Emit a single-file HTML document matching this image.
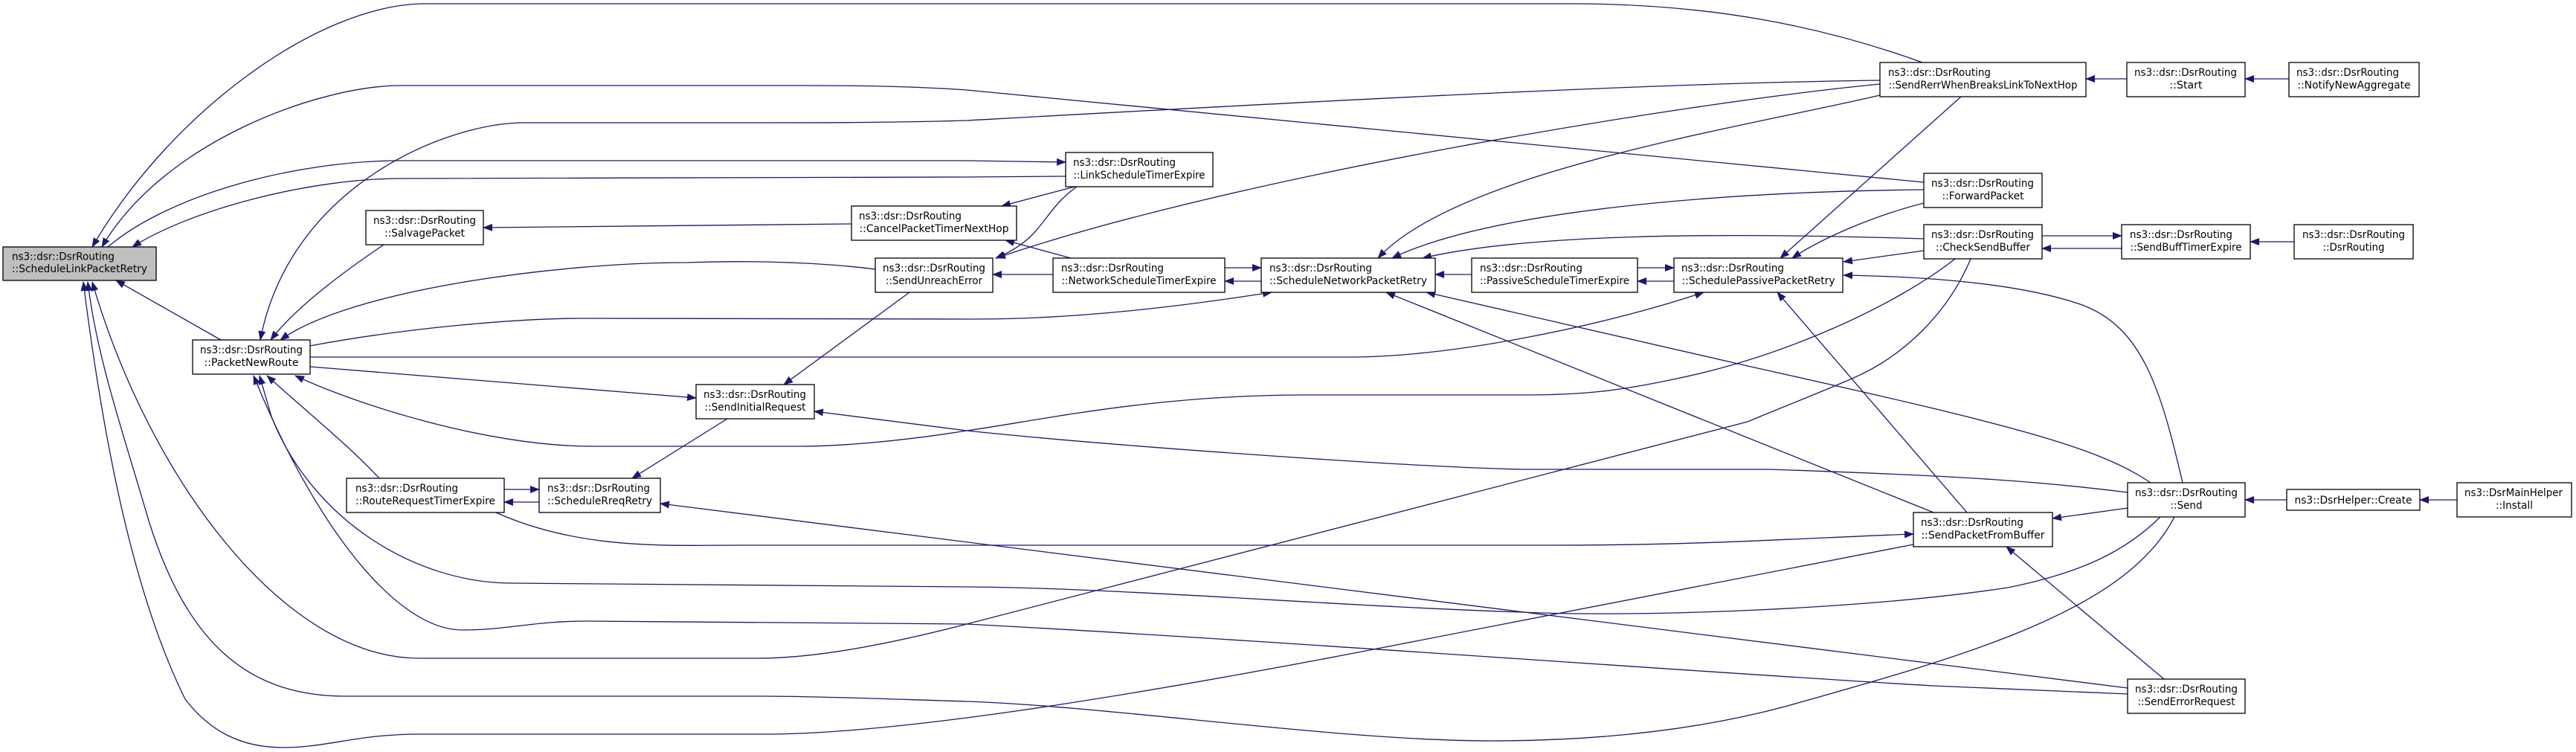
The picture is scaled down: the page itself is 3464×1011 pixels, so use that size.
<!DOCTYPE html>
<html>
<head>
<meta charset="utf-8">
<style>
html,body{margin:0;padding:0;background:#fff;}
svg{display:block;}
text{font-family:"DejaVu Sans","Liberation Sans",sans-serif;font-size:14px;fill:#000;}
.e{fill:none;stroke:#191970;stroke-width:1.3;marker-end:url(#ah);}
.b{fill:#fff;stroke:#000;stroke-width:1.3;}
</style>
</head>
<body>
<svg width="3464" height="1011" viewBox="0 0 3464 1011" xmlns="http://www.w3.org/2000/svg">
<defs>
<marker id="ah" markerWidth="13" markerHeight="10" refX="12" refY="5" orient="auto" markerUnits="userSpaceOnUse">
<path d="M0,0 L13,5 L0,10 z" fill="#191970"/>
</marker>
</defs>
<rect width="3464" height="1011" fill="#fff"/>

<!-- edges -->
<path class="e" d="M2585,84 C2450,35 2300,5 2113,5 L572,5 C430,5 230,150 124,332"/>
<path class="e" d="M2587,245 L1300,121 C1200,114 1100,115 1040,115 L539,115 C430,115 220,190 137,332"/>
<path class="e" d="M2528,108 C2200,112 1700,140 1300,162 C1200,165 1100,165 1000,165 L705,165 C600,165 390,250 350,457"/>
<path class="e" d="M145,332 C230,260 400,216 539,216 L1300,216 L1433,218"/>
<path class="e" d="M1433,237 L1300,238 L539,240 C420,240 260,280 178,332"/>
<path class="e" d="M2528,113 C2250,140 1650,240 1340,347"/>
<path class="e" d="M2528,128 C2350,170 1960,230 1853,347"/>
<path class="e" d="M1445,251 L1347,277"/>
<path class="e" d="M1448,251 C1400,285 1405,320 1339,347"/>
<path class="e" d="M1440,347 L1352,323"/>
<path class="e" d="M2587,255 C2300,258 2000,285 1872,347"/>
<path class="e" d="M2587,321 C2300,312 2050,315 1913,347"/>
<path class="e" d="M2587,273 C2520,290 2450,320 2410,347"/>
<path class="e" d="M2637,130 L2394,347"/>
<path class="e" d="M2587,337 L2479,352"/>
<path class="e" d="M2746,317 L2853,317"/>
<path class="e" d="M2853,334 L2746,334"/>
<path class="e" d="M1979,369 L1930,369"/>
<path class="e" d="M2202,360 L2251,360"/>
<path class="e" d="M2251,378 L2202,378"/>
<path class="e" d="M1647,360 L1696,360"/>
<path class="e" d="M1696,378 L1647,378"/>
<path class="e" d="M1416,369 L1335,369"/>
<path class="e" d="M2860,106 L2805,106"/>
<path class="e" d="M3078,106 L3019,106"/>
<path class="e" d="M3085,325 L3026,325"/>
<path class="e" d="M3075,672 L3019,672"/>
<path class="e" d="M3304,672 L3254,672"/>
<path class="e" d="M2935,649 C2905,520 2880,440 2800,410 C2720,382 2600,372 2479,370"/>
<path class="e" d="M2645,689 L2390,393"/>
<path class="e" d="M2600,689 L1864,393"/>
<path class="e" d="M2892,649 C2820,600 2700,570 2350,492 L1918,393"/>
<path class="e" d="M2861,683 L2760,697"/>
<path class="e" d="M2910,913 L2698,735"/>
<path class="e" d="M667,689 C780,740 900,733 995,733 L2088,733 C2300,733 2450,722 2573,718"/>
<path class="e" d="M2861,925 L888,677"/>
<path class="e" d="M2861,662 C2750,648 2650,640 2378,631 L2046,631 C1900,628 1500,600 1300,579 L1095,553"/>
<path class="e" d="M417,493 L936,535"/>
<path class="e" d="M1223,393 L1054,517"/>
<path class="e" d="M978,563 L850,643"/>
<path class="e" d="M678,658 L725,658"/>
<path class="e" d="M725,675 L678,675"/>
<path class="e" d="M516,329 C470,360 400,410 364,457"/>
<path class="e" d="M1145,301 L650,306"/>
<path class="e" d="M1177,362 C1100,352 1000,350 923,353 C750,353 470,390 377,457"/>
<path class="e" d="M297,457 L156,377"/>
<path class="e" d="M417,465 C550,440 700,428 783,428 L1300,429 C1450,430 1600,410 1710,393"/>
<path class="e" d="M417,480 L1814,480 C1950,480 2150,440 2291,393"/>
<path class="e" d="M2629,348 C2550,410 2400,480 2250,510 C2180,525 2130,531 2050,531 L1756,531 C1550,531 1400,565 1300,579 C1200,595 1120,600 1078,600 L796,600 C650,600 470,540 397,505"/>
<path class="e" d="M2650,348 C2620,420 2560,480 2488,510 C2430,535 2390,550 2350,567 L1300,839 C1200,865 1100,885 1020,885 L564,885 C380,885 200,640 124,379"/>
<path class="e" d="M2573,732 L1847,873 C1500,940 1200,987 1028,987 L564,987 C480,987 440,1005 381,1005 C320,1005 280,980 249,940 C180,800 140,600 112,379"/>
<path class="e" d="M2924,695 C2860,820 2650,880 2400,950 C2250,990 2100,996 2005,996 C1800,996 1500,950 1300,943 C1200,940 1100,936 1028,936 L464,936 C330,936 250,860 200,700 C165,580 130,480 118,379"/>
<path class="e" d="M2861,933 L2600,922 C2300,905 1700,860 1300,839 L788,835 C720,835 680,847 622,847 C530,847 420,700 341,505"/>
<path class="e" d="M2906,694 C2860,740 2800,770 2700,790 C2500,820 2200,830 2046,823 C1800,815 1500,790 1300,789 L688,784 C560,784 420,700 365,560 L349,505"/>
<path class="e" d="M510,643 C470,600 420,560 359,505"/>

<!-- nodes -->
<g>
<rect x="4" y="332" width="206" height="45" fill="#bfbfbf" stroke="#000" stroke-width="1.3"/>
<text x="16" y="349.5" textLength="138" lengthAdjust="spacingAndGlyphs">ns3::dsr::DsrRouting</text>
<text x="107" y="366" text-anchor="middle" textLength="182" lengthAdjust="spacingAndGlyphs">::ScheduleLinkPacketRetry</text>

<rect class="b" x="259" y="457" width="158" height="46"/>
<text x="269" y="475" textLength="138" lengthAdjust="spacingAndGlyphs">ns3::dsr::DsrRouting</text>
<text x="338" y="492" text-anchor="middle" textLength="127" lengthAdjust="spacingAndGlyphs">::PacketNewRoute</text>

<rect class="b" x="492" y="283" width="158" height="46"/>
<text x="502" y="301" textLength="138" lengthAdjust="spacingAndGlyphs">ns3::dsr::DsrRouting</text>
<text x="571" y="318" text-anchor="middle" textLength="108" lengthAdjust="spacingAndGlyphs">::SalvagePacket</text>

<rect class="b" x="1145" y="277" width="222" height="46"/>
<text x="1155" y="295" textLength="138" lengthAdjust="spacingAndGlyphs">ns3::dsr::DsrRouting</text>
<text x="1256" y="312" text-anchor="middle" textLength="201" lengthAdjust="spacingAndGlyphs">::CancelPacketTimerNextHop</text>

<rect class="b" x="1433" y="205" width="198" height="46"/>
<text x="1443" y="223" textLength="138" lengthAdjust="spacingAndGlyphs">ns3::dsr::DsrRouting</text>
<text x="1532" y="240" text-anchor="middle" textLength="177" lengthAdjust="spacingAndGlyphs">::LinkScheduleTimerExpire</text>

<rect class="b" x="1177" y="347" width="158" height="46"/>
<text x="1187" y="365" textLength="138" lengthAdjust="spacingAndGlyphs">ns3::dsr::DsrRouting</text>
<text x="1256" y="382" text-anchor="middle" textLength="130" lengthAdjust="spacingAndGlyphs">::SendUnreachError</text>

<rect class="b" x="1416" y="347" width="231" height="46"/>
<text x="1427" y="365" textLength="138" lengthAdjust="spacingAndGlyphs">ns3::dsr::DsrRouting</text>
<text x="1531.5" y="382" text-anchor="middle" textLength="208" lengthAdjust="spacingAndGlyphs">::NetworkScheduleTimerExpire</text>

<rect class="b" x="1696" y="347" width="234" height="46"/>
<text x="1707" y="365" textLength="138" lengthAdjust="spacingAndGlyphs">ns3::dsr::DsrRouting</text>
<text x="1813" y="382" text-anchor="middle" textLength="212" lengthAdjust="spacingAndGlyphs">::ScheduleNetworkPacketRetry</text>

<rect class="b" x="936" y="517" width="159" height="46"/>
<text x="946" y="535" textLength="138" lengthAdjust="spacingAndGlyphs">ns3::dsr::DsrRouting</text>
<text x="1015.5" y="552" text-anchor="middle" textLength="136" lengthAdjust="spacingAndGlyphs">::SendInitialRequest</text>

<rect class="b" x="466" y="643" width="212" height="46"/>
<text x="478" y="661" textLength="138" lengthAdjust="spacingAndGlyphs">ns3::dsr::DsrRouting</text>
<text x="572" y="678" text-anchor="middle" textLength="188" lengthAdjust="spacingAndGlyphs">::RouteRequestTimerExpire</text>

<rect class="b" x="725" y="643" width="163" height="46"/>
<text x="736" y="661" textLength="138" lengthAdjust="spacingAndGlyphs">ns3::dsr::DsrRouting</text>
<text x="806.5" y="678" text-anchor="middle" textLength="141" lengthAdjust="spacingAndGlyphs">::ScheduleRreqRetry</text>

<rect class="b" x="2528" y="84" width="277" height="46"/>
<text x="2539" y="102" textLength="138" lengthAdjust="spacingAndGlyphs">ns3::dsr::DsrRouting</text>
<text x="2666.5" y="119" text-anchor="middle" textLength="254" lengthAdjust="spacingAndGlyphs">::SendRerrWhenBreaksLinkToNextHop</text>

<rect class="b" x="2587" y="233" width="159" height="46"/>
<text x="2597" y="251" textLength="138" lengthAdjust="spacingAndGlyphs">ns3::dsr::DsrRouting</text>
<text x="2666.5" y="268" text-anchor="middle" textLength="110" lengthAdjust="spacingAndGlyphs">::ForwardPacket</text>

<rect class="b" x="2587" y="302" width="159" height="46"/>
<text x="2597" y="320" textLength="138" lengthAdjust="spacingAndGlyphs">ns3::dsr::DsrRouting</text>
<text x="2666.5" y="337" text-anchor="middle" textLength="127" lengthAdjust="spacingAndGlyphs">::CheckSendBuffer</text>

<rect class="b" x="1979" y="347" width="223" height="46"/>
<text x="1990" y="365" textLength="138" lengthAdjust="spacingAndGlyphs">ns3::dsr::DsrRouting</text>
<text x="2090.5" y="382" text-anchor="middle" textLength="201" lengthAdjust="spacingAndGlyphs">::PassiveScheduleTimerExpire</text>

<rect class="b" x="2251" y="347" width="227" height="46"/>
<text x="2261" y="365" textLength="138" lengthAdjust="spacingAndGlyphs">ns3::dsr::DsrRouting</text>
<text x="2364.5" y="382" text-anchor="middle" textLength="206" lengthAdjust="spacingAndGlyphs">::SchedulePassivePacketRetry</text>

<rect class="b" x="2860" y="84" width="159" height="46"/>
<text x="2870" y="102" textLength="138" lengthAdjust="spacingAndGlyphs">ns3::dsr::DsrRouting</text>
<text x="2939.5" y="119" text-anchor="middle" textLength="44" lengthAdjust="spacingAndGlyphs">::Start</text>

<rect class="b" x="3078" y="84" width="175" height="46"/>
<text x="3088" y="102" textLength="138" lengthAdjust="spacingAndGlyphs">ns3::dsr::DsrRouting</text>
<text x="3165.5" y="119" text-anchor="middle" textLength="152" lengthAdjust="spacingAndGlyphs">::NotifyNewAggregate</text>

<rect class="b" x="2853" y="302" width="173" height="46"/>
<text x="2864" y="320" textLength="138" lengthAdjust="spacingAndGlyphs">ns3::dsr::DsrRouting</text>
<text x="2939.5" y="337" text-anchor="middle" textLength="150" lengthAdjust="spacingAndGlyphs">::SendBuffTimerExpire</text>

<rect class="b" x="3085" y="302" width="160" height="46"/>
<text x="3096" y="320" textLength="138" lengthAdjust="spacingAndGlyphs">ns3::dsr::DsrRouting</text>
<text x="3165" y="337" text-anchor="middle" textLength="83" lengthAdjust="spacingAndGlyphs">::DsrRouting</text>

<rect class="b" x="2861" y="649" width="158" height="46"/>
<text x="2871" y="667" textLength="138" lengthAdjust="spacingAndGlyphs">ns3::dsr::DsrRouting</text>
<text x="2940" y="684" text-anchor="middle" textLength="43" lengthAdjust="spacingAndGlyphs">::Send</text>

<rect class="b" x="3075" y="658" width="179" height="28"/>
<text x="3164.5" y="677" text-anchor="middle" textLength="158" lengthAdjust="spacingAndGlyphs">ns3::DsrHelper::Create</text>

<rect class="b" x="3304" y="649" width="154" height="46"/>
<text x="3314" y="667" textLength="132" lengthAdjust="spacingAndGlyphs">ns3::DsrMainHelper</text>
<text x="3381" y="684" text-anchor="middle" textLength="50" lengthAdjust="spacingAndGlyphs">::Install</text>

<rect class="b" x="2573" y="689" width="187" height="46"/>
<text x="2583" y="707" textLength="138" lengthAdjust="spacingAndGlyphs">ns3::dsr::DsrRouting</text>
<text x="2666.5" y="724" text-anchor="middle" textLength="166" lengthAdjust="spacingAndGlyphs">::SendPacketFromBuffer</text>

<rect class="b" x="2861" y="913" width="158" height="46"/>
<text x="2871" y="931" textLength="138" lengthAdjust="spacingAndGlyphs">ns3::dsr::DsrRouting</text>
<text x="2940" y="948" text-anchor="middle" textLength="131" lengthAdjust="spacingAndGlyphs">::SendErrorRequest</text>
</g>
</svg>
</body>
</html>
